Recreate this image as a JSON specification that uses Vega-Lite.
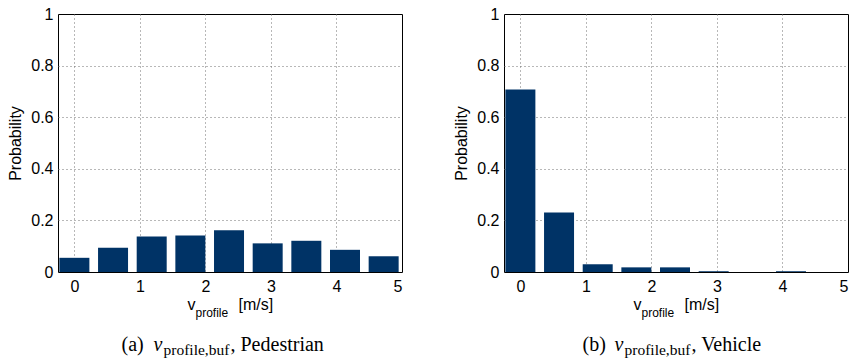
{
  "$schema": "https://vega.github.io/schema/vega-lite/v6.json",
  "padding": {"left": 7, "top": 5, "right": 0, "bottom": 0},
  "spacing": 50,
  "config": {
    "view": {"stroke": "black", "strokeWidth": 1},
    "axis": {
      "labelFont": "Liberation Sans", "labelFontSize": 16, "labelColor": "black",
      "titleFont": "Liberation Sans", "titleFontSize": 16, "titleFontWeight": "normal", "titleColor": "black",
      "ticks": false, "tickSize": 0, "domain": false, "grid": false
    }
  },
  "hconcat": [
    {
      "width": 344, "height": 258,
      "data": {"values": [
        {"v": 0, "p": 0.055}, {"v": 0.59, "p": 0.094}, {"v": 1.18, "p": 0.138},
        {"v": 1.77, "p": 0.141}, {"v": 2.36, "p": 0.162}, {"v": 2.95, "p": 0.111},
        {"v": 3.54, "p": 0.121}, {"v": 4.13, "p": 0.086}, {"v": 4.72, "p": 0.061}
      ]},
      "layer": [
        {
          "mark": {"type": "bar", "width": 30, "color": "#003366"},
          "encoding": {
            "x": {"field": "v", "type": "quantitative",
              "scale": {"domain": [-0.25, 5], "nice": false, "zero": false, "padding": 0},
              "axis": {"orient": "bottom", "values": [0, 1, 2, 3, 4, 5], "labelPadding": 6,
                "grid": true, "gridDash": [1, 3], "gridColor": "#707070",
                "gridOpacity": {"condition": {"test": "datum.value == 5", "value": 0}, "value": 1},
                "title": "v", "titleX": 129, "titleY": 37, "titleAlign": "left", "titleBaseline": "alphabetic"}},
            "y": {"field": "p", "type": "quantitative",
              "scale": {"domain": [0, 1], "nice": false},
              "axis": {"values": [0, 0.2, 0.4, 0.6, 0.8, 1], "format": "~g", "labelPadding": 5,
                "grid": true, "gridDash": [1, 3], "gridColor": "#707070",
                "gridOpacity": {"condition": {"test": "datum.value == 0 || datum.value == 1", "value": 0}, "value": 1},
                "title": "Probability", "titlePadding": 7}}
          }
        },
        {
          "mark": {"type": "rule", "opacity": 0},
          "encoding": {"x": {"datum": 0, "type": "quantitative",
            "axis": {"orient": "top", "labels": false, "title": "profile", "titleFontSize": 12,
              "titleX": 137, "titleY": 302, "titleAlign": "left", "titleBaseline": "alphabetic"}}}
        },
        {
          "mark": {"type": "rule", "opacity": 0},
          "encoding": {"x": {"datum": 0, "type": "quantitative",
            "axis": {"orient": "top", "labels": false, "title": "[m/s]",
              "titleX": 180, "titleY": 295, "titleAlign": "left", "titleBaseline": "alphabetic"}}}
        },
        {
          "mark": {"type": "rule", "opacity": 0},
          "encoding": {"x": {"datum": 0, "type": "quantitative",
            "axis": {"orient": "top", "labels": false, "title": "(a)", "titleFont": "Liberation Serif", "titleFontSize": 20,
              "titleX": 63, "titleY": 336, "titleAlign": "left", "titleBaseline": "alphabetic"}}}
        },
        {
          "mark": {"type": "rule", "opacity": 0},
          "encoding": {"x": {"datum": 0, "type": "quantitative",
            "axis": {"orient": "top", "labels": false, "title": "v", "titleFont": "Liberation Serif", "titleFontSize": 20, "titleFontStyle": "italic",
              "titleX": 95, "titleY": 336, "titleAlign": "left", "titleBaseline": "alphabetic"}}}
        },
        {
          "mark": {"type": "rule", "opacity": 0},
          "encoding": {"x": {"datum": 0, "type": "quantitative",
            "axis": {"orient": "top", "labels": false, "title": "profile,buf", "titleFont": "Liberation Serif", "titleFontSize": 15.5,
              "titleX": 105, "titleY": 340, "titleAlign": "left", "titleBaseline": "alphabetic"}}}
        },
        {
          "mark": {"type": "rule", "opacity": 0},
          "encoding": {"x": {"datum": 0, "type": "quantitative",
            "axis": {"orient": "top", "labels": false, "title": ", Pedestrian", "titleFont": "Liberation Serif", "titleFontSize": 20,
              "titleX": 172, "titleY": 336, "titleAlign": "left", "titleBaseline": "alphabetic"}}}
        }
      ],
      "resolve": {"axis": {"x": "independent"}}
    },
    {
      "width": 344, "height": 258,
      "data": {"values": [
        {"v": 0, "p": 0.707}, {"v": 0.59, "p": 0.231}, {"v": 1.18, "p": 0.03},
        {"v": 1.77, "p": 0.018}, {"v": 2.36, "p": 0.018}, {"v": 2.95, "p": 0.003},
        {"v": 3.54, "p": 0}, {"v": 4.13, "p": 0.003}, {"v": 4.72, "p": 0}
      ]},
      "layer": [
        {
          "mark": {"type": "bar", "width": 30, "color": "#003366"},
          "encoding": {
            "x": {"field": "v", "type": "quantitative",
              "scale": {"domain": [-0.25, 5], "nice": false, "zero": false, "padding": 0},
              "axis": {"orient": "bottom", "values": [0, 1, 2, 3, 4, 5], "labelPadding": 6,
                "grid": true, "gridDash": [1, 3], "gridColor": "#707070",
                "gridOpacity": {"condition": {"test": "datum.value == 5", "value": 0}, "value": 1},
                "title": "v", "titleX": 129, "titleY": 37, "titleAlign": "left", "titleBaseline": "alphabetic"}},
            "y": {"field": "p", "type": "quantitative",
              "scale": {"domain": [0, 1], "nice": false},
              "axis": {"values": [0, 0.2, 0.4, 0.6, 0.8, 1], "format": "~g", "labelPadding": 5,
                "grid": true, "gridDash": [1, 3], "gridColor": "#707070",
                "gridOpacity": {"condition": {"test": "datum.value == 0 || datum.value == 1", "value": 0}, "value": 1},
                "title": "Probability", "titlePadding": 7}}
          }
        },
        {
          "mark": {"type": "rule", "opacity": 0},
          "encoding": {"x": {"datum": 0, "type": "quantitative",
            "axis": {"orient": "top", "labels": false, "title": "profile", "titleFontSize": 12,
              "titleX": 137, "titleY": 302, "titleAlign": "left", "titleBaseline": "alphabetic"}}}
        },
        {
          "mark": {"type": "rule", "opacity": 0},
          "encoding": {"x": {"datum": 0, "type": "quantitative",
            "axis": {"orient": "top", "labels": false, "title": "[m/s]",
              "titleX": 180, "titleY": 295, "titleAlign": "left", "titleBaseline": "alphabetic"}}}
        },
        {
          "mark": {"type": "rule", "opacity": 0},
          "encoding": {"x": {"datum": 0, "type": "quantitative",
            "axis": {"orient": "top", "labels": false, "title": "(b)", "titleFont": "Liberation Serif", "titleFontSize": 20,
              "titleX": 78, "titleY": 336, "titleAlign": "left", "titleBaseline": "alphabetic"}}}
        },
        {
          "mark": {"type": "rule", "opacity": 0},
          "encoding": {"x": {"datum": 0, "type": "quantitative",
            "axis": {"orient": "top", "labels": false, "title": "v", "titleFont": "Liberation Serif", "titleFontSize": 20, "titleFontStyle": "italic",
              "titleX": 110, "titleY": 336, "titleAlign": "left", "titleBaseline": "alphabetic"}}}
        },
        {
          "mark": {"type": "rule", "opacity": 0},
          "encoding": {"x": {"datum": 0, "type": "quantitative",
            "axis": {"orient": "top", "labels": false, "title": "profile,buf", "titleFont": "Liberation Serif", "titleFontSize": 15.5,
              "titleX": 120, "titleY": 340, "titleAlign": "left", "titleBaseline": "alphabetic"}}}
        },
        {
          "mark": {"type": "rule", "opacity": 0},
          "encoding": {"x": {"datum": 0, "type": "quantitative",
            "axis": {"orient": "top", "labels": false, "title": ", Vehicle", "titleFont": "Liberation Serif", "titleFontSize": 20,
              "titleX": 187, "titleY": 336, "titleAlign": "left", "titleBaseline": "alphabetic"}}}
        }
      ],
      "resolve": {"axis": {"x": "independent"}}
    }
  ]
}
